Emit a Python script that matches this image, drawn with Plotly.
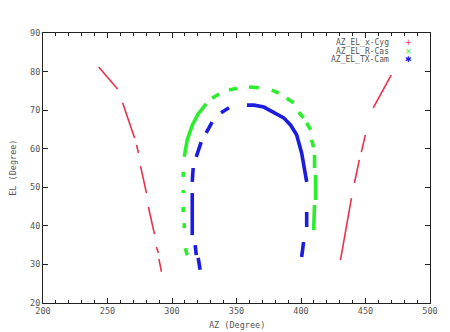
import plotly.graph_objects as go

# AZ/EL track segments (None separates gaps in the observed track)
cyg_az = [243.2, 250.1, 257.8, None, 261.7, 266.3, 271.0, None, 272.5, 274.0, None,
          275.6, 280.2, None, 281.7, 286.4, None, 287.9, 289.5, None, 289.9, 291.8, None,
          469.9, 463.0, 456.0, None, 449.9, 446.8, None, 445.2, 441.4, None, 439.1, 434.8, 430.6]
cyg_el = [81.2, 78.6, 75.5, None, 71.9, 67.4, 62.8, None, 61.0, 58.9, None,
          55.5, 48.5, None, 44.9, 37.9, None, 34.5, 33.0, None, 31.4, 28.1, None,
          79.1, 75.0, 70.6, None, 63.6, 59.1, None, 57.1, 51.1, None, 47.2, 39.0, 31.1]

cas_az = [311.8, 310.3, None, 309.5, 309.5, None, 308.7, 308.7, None, 308.7, 308.7, None,
          308.7, 308.7, None, 309.5, 311.8, 315.7, 320.3, 326.5, None, 331.1, 336.5, None,
          344.2, 350.4, None, 359.6, 367.3, None, 377.4, 382.8, None, 388.9, 394.3, None,
          398.2, 402.0, None, 404.4, 407.5, None, 408.2, 409.8, None, 410.5, 410.5, None,
          411.3, 411.3, None, 410.5, 409.8]
cas_el = [32.4, 34.2, None, 39.4, 40.7, None, 43.6, 44.9, None, 48.5, 49.3, None,
          52.7, 54.0, None, 57.9, 62.3, 66.1, 69.0, 71.6, None, 73.1, 74.2, None,
          75.2, 75.7, None, 76.0, 75.8, None, 75.2, 74.4, None, 73.1, 71.9, None,
          69.5, 68.0, None, 66.7, 64.9, None, 62.3, 60.4, None, 58.4, 55.0, None,
          53.2, 46.7, None, 45.4, 38.9]

cam_az = [321.8, 320.3, None, 318.8, 318.0, None, 315.7, 315.7, None, 315.7, 316.4, None,
          318.8, 322.6, None, 326.5, 331.1, None, 338.0, 344.2, None,
          358.1, 363.5, 371.2, 378.9, 386.6, 392.0, 396.6, 400.5, 402.8, 404.4, None,
          404.4, 404.4, None, 402.0, 400.5]
cam_el = [28.6, 31.7, None, 32.4, 35.0, None, 37.6, 48.5, None, 51.4, 55.0, None,
          57.9, 61.7, None, 64.1, 66.9, None, 69.3, 70.6, None,
          71.3, 71.3, 70.8, 69.5, 68.0, 66.1, 63.6, 58.9, 54.5, 51.4, None,
          43.6, 39.7, None, 35.8, 31.9]

series_names = ["AZ_EL_x-Cyg", "AZ_EL_R-Cas", "AZ_EL_TX-Cam"]
series_colors = ["#e8324a", "#2aee2a", "#1c1ce0"]
series_glyphs = ["+", "×", "✱"]

x_ticks = [200, 250, 300, 350, 400, 450, 500]
y_ticks = [20, 30, 40, 50, 60, 70, 80, 90]

FONT = "DejaVu Sans Mono"
TXT = "#555555"

fig = go.Figure()
for az, el, col, w in [(cyg_az, cyg_el, series_colors[0], 1.6),
                       (cas_az, cas_el, series_colors[1], 3.6),
                       (cam_az, cam_el, series_colors[2], 3.6)]:
    fig.add_trace(go.Scatter(x=az, y=el, mode="lines",
                             line=dict(color=col, width=w),
                             showlegend=False, hoverinfo="skip"))

axis_common = dict(
    showgrid=False, zeroline=False, showline=True, linecolor="#222222", linewidth=1,
    mirror="allticks", ticks="inside", ticklen=5, tickcolor="#222222",
    tickfont=dict(family=FONT, size=8.5, color=TXT),
)
fig.update_xaxes(range=[200, 500], tickvals=x_ticks, ticktext=[str(v) for v in x_ticks],
                 minor=dict(ticks="inside", ticklen=3, dtick=10, tickcolor="#222222", showgrid=False),
                 **axis_common)
fig.update_yaxes(range=[20, 90], tickvals=y_ticks, ticktext=[str(v) for v in y_ticks],
                 **axis_common)

annotations = [
    dict(text="AZ (Degree)", x=0.5, y=-0.082, xref="paper", yref="paper",
         xanchor="center", yanchor="middle", showarrow=False,
         font=dict(family=FONT, size=8.5, color=TXT)),
    dict(text="EL (Degree)", x=-0.078, y=0.5, xref="paper", yref="paper",
         xanchor="center", yanchor="middle", showarrow=False, textangle=-90,
         font=dict(family=FONT, size=8.5, color=TXT)),
]
for i, (name, col, g) in enumerate(zip(series_names, series_colors, series_glyphs)):
    yy = 1 - (10 + 8 * i) / 270
    annotations.append(dict(text=name, x=(393 - 43) / 389, y=yy, xref="paper", yref="paper",
                            xanchor="right", yanchor="middle", showarrow=False,
                            font=dict(family=FONT, size=8, color=TXT)))
    annotations.append(dict(text=g, x=(410 - 43) / 389, y=yy, xref="paper", yref="paper",
                            xanchor="center", yanchor="middle", showarrow=False,
                            font=dict(family="DejaVu Sans", size=8, color=col)))

# page body has an 8px default margin, so the figure is shrunk by that amount
fig.update_layout(
    width=442, height=324,
    margin=dict(l=35, r=18, t=25, b=29),
    paper_bgcolor="white", plot_bgcolor="white",
    annotations=annotations,
)

fig.write_html("out.html")
